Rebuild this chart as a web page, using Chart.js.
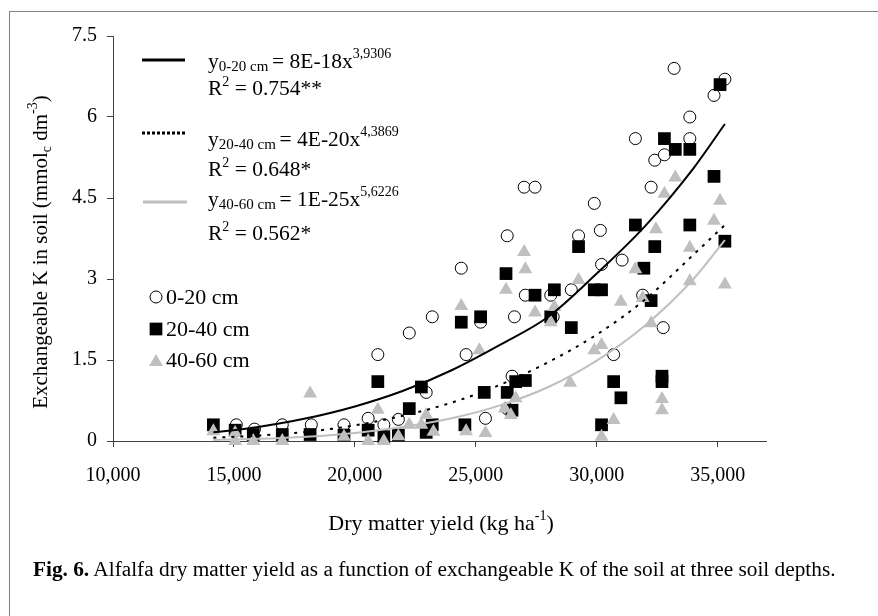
<!DOCTYPE html>
<html>
<head>
<meta charset="utf-8">
<script src="https://cdn.jsdelivr.net/npm/chart.js@4.4.1/dist/chart.umd.min.js"></script>
<style>
  html, body { margin: 0; padding: 0; background: #fff; overflow: hidden; }
  #wrap { position: relative; width: 878px; height: 616px; }
  #frame { position: absolute; left: 9px; top: 11px; width: 900px; height: 620px;
           border-left: 1.5px solid #808080; border-top: 1.5px solid #808080; }
  #chart-box { position: absolute; left: 0; top: 0; width: 878px; height: 616px; }
  #caption { position: absolute; left: 33px; top: 559px; white-space: nowrap;
             font: 21.3px 'Liberation Serif', 'Times New Roman', serif; line-height: 21px; color: #000; }
</style>
</head>
<body>
<div id="wrap">
  <div id="frame"></div>
  <div id="chart-box"><canvas id="k-chart"></canvas></div>
  <div id="caption"><b>Fig. 6.</b> Alfalfa dry matter yield as a function of exchangeable K of the soil at three soil depths.</div>
</div>
<script>
// ── data ───────────────────────────────────────────────
// 0-20 cm (open circles)
const topX = [15100, 15850, 17000, 18200, 19550, 20550, 20950, 21200, 21800, 22250, 22950, 23200, 24400, 24600, 25200,
              25400, 26300, 26300, 26500, 26600, 27000, 27050, 27450, 28100, 28200, 28950, 29250, 29900, 30150, 30200,
              30700, 31050, 31600, 31900, 32250, 32400, 32750, 32800, 33200, 33850, 33850, 34850, 35300];
const topY = [0.30, 0.22, 0.30, 0.30, 0.30, 0.42, 1.60, 0.30, 0.40, 2.00, 0.90, 2.30, 3.20, 1.60, 2.20,
              0.42, 3.80, 0.60, 1.20, 2.30, 4.70, 2.70, 4.70, 2.70, 2.30, 2.80, 3.80, 4.40, 3.90, 3.27,
              1.60, 3.35, 5.60, 2.70, 4.70, 5.20, 2.10, 5.30, 6.90, 6.00, 5.60, 6.40, 6.70];

// 20-40 cm (black squares)
const midX = [14150, 15050, 15800, 17000, 18150, 19550, 20550, 20950, 21200, 21800, 22250, 22750, 22950, 23200, 24400,
              24550, 25200, 25350, 26250, 26300, 26500, 26650, 27050, 27450, 28100, 28250, 28950, 29250, 29900, 30200,
              30200, 30700, 31000, 31600, 31950, 32250, 32400, 32700, 32700, 32800, 33250, 33850, 33850, 34850, 35100, 35300];
const midY = [0.30, 0.20, 0.12, 0.12, 0.12, 0.11, 0.20, 1.10, 0.08, 0.11, 0.60, 1.00, 0.16, 0.30, 2.20,
              0.30, 2.30, 0.90, 3.10, 0.90, 0.57, 1.10, 1.12, 2.70, 2.30, 2.80, 2.10, 3.60, 2.80, 2.80,
              0.30, 1.10, 0.80, 4.00, 3.20, 2.60, 3.60, 1.20, 1.10, 5.60, 5.40, 5.40, 4.00, 4.90, 6.60, 3.70];

// 40-60 cm (grey triangles)
const lowX = [14150, 15050, 15050, 15800, 17000, 18150, 19550, 20550, 20950, 21200, 21800, 22250, 22750, 22950, 23250,
              24400, 24600, 25150, 25400, 26250, 26200, 26450, 26650, 27000, 27050, 27450, 28100, 28250, 28900, 29250,
              29900, 30200, 30200, 30700, 31000, 31600, 31900, 32250, 32450, 32700, 32700, 32800, 33250, 33850, 33850,
              34850, 35100, 35300];
const lowY = [0.18, 0.15, 0.00, 0.00, 0.00, 0.88, 0.08, 0.00, 0.58, 0.00, 0.09, 0.30, 0.30, 0.48, 0.17,
              2.50, 0.18, 1.68, 0.15, 2.80, 0.60, 0.48, 0.79, 3.50, 3.18, 2.38, 2.20, 2.48, 1.08, 2.98,
              1.68, 1.78, 0.08, 0.39, 2.58, 3.18, 2.65, 2.18, 3.92, 0.78, 0.57, 4.58, 4.88, 3.58, 2.96,
              4.08, 4.45, 2.90];

// fitted power curves
const fitX     = [14150, 16000, 18000, 20000, 22000, 24000, 26000, 28000, 30000, 32000, 34000, 35300];
const fitTop   = [0.16, 0.26, 0.42, 0.64, 0.93, 1.31, 1.78, 2.30, 3.10, 3.98, 5.05, 5.87];
const fitMid   = [0.06, 0.10, 0.17, 0.29, 0.47, 0.71, 1.04, 1.46, 1.97, 2.62, 3.45, 4.00];
const fitLow   = [0.02, 0.04, 0.08, 0.15, 0.26, 0.42, 0.66, 1.00, 1.49, 2.14, 3.00, 3.72];

const xTicks = [10000, 15000, 20000, 25000, 30000, 35000];
const yTicks = [0, 1.5, 3, 4.5, 6, 7.5];

const GREY = '#bfbfbf';
const SERIF = "'Liberation Serif', 'Times New Roman', serif";

const pts = (xs, ys) => xs.map((x, i) => ({ x, y: ys[i] }));

// draw a run of text pieces (for sub/superscripts) starting at x, on baseline y
function drawRuns(ctx, runs, x, y) {
  let cx = x;
  runs.forEach(r => {
    ctx.font = `${r.s}px ${SERIF}`;
    ctx.fillText(r.t, cx, y + (r.dy || 0));
    cx += ctx.measureText(r.t).width;
  });
  return cx - x;
}
function runsWidth(ctx, runs) {
  return runs.reduce((w, r) => { ctx.font = `${r.s}px ${SERIF}`; return w + ctx.measureText(r.t).width; }, 0);
}

const textPlugin = {
  id: 'figText',
  afterDraw(chart) {
    const ctx = chart.ctx;
    ctx.save();
    ctx.fillStyle = '#000';
    ctx.textBaseline = 'alphabetic';
    ctx.textAlign = 'left';

    // equation legend
    ctx.lineCap = 'butt';
    ctx.strokeStyle = '#000'; ctx.lineWidth = 3;
    ctx.beginPath(); ctx.moveTo(142, 60); ctx.lineTo(185, 60); ctx.stroke();
    ctx.setLineDash([3, 2]);
    ctx.beginPath(); ctx.moveTo(142, 133); ctx.lineTo(185, 133); ctx.stroke();
    ctx.setLineDash([]);
    ctx.strokeStyle = GREY;
    ctx.beginPath(); ctx.moveTo(143, 202); ctx.lineTo(187, 202); ctx.stroke();

    const eqX = 208;
    const M = 21.5, SUB = 15, SUP = 14;
    drawRuns(ctx, [{ t: 'y', s: M }, { t: '0-20 cm ', s: SUB, dy: 3 }, { t: '= 8E-18x', s: M }, { t: '3,9306', s: SUP, dy: -10 }], eqX, 68);
    drawRuns(ctx, [{ t: 'R', s: M }, { t: '2', s: SUP, dy: -9 }, { t: ' = 0.754**', s: M }], eqX, 95);
    drawRuns(ctx, [{ t: 'y', s: M }, { t: '20-40 cm ', s: SUB, dy: 3 }, { t: '= 4E-20x', s: M }, { t: '4,3869', s: SUP, dy: -10 }], eqX, 146);
    drawRuns(ctx, [{ t: 'R', s: M }, { t: '2', s: SUP, dy: -9 }, { t: ' = 0.648*', s: M }], eqX, 176);
    drawRuns(ctx, [{ t: 'y', s: M }, { t: '40-60 cm ', s: SUB, dy: 3 }, { t: '= 1E-25x', s: M }, { t: '5,6226', s: SUP, dy: -10 }], eqX, 206);
    drawRuns(ctx, [{ t: 'R', s: M }, { t: '2', s: SUP, dy: -9 }, { t: ' = 0.562*', s: M }], eqX, 240);

    // marker legend
    const h = Chart.helpers;
    ctx.lineWidth = 1; ctx.strokeStyle = '#000'; ctx.fillStyle = '#fff';
    h.drawPoint(ctx, { pointStyle: 'circle', radius: 6, borderWidth: 1 }, 156, 297);
    ctx.fillStyle = '#000';
    h.drawPoint(ctx, { pointStyle: 'rect', radius: 9, borderWidth: 0 }, 156, 329);
    ctx.fillStyle = GREY; ctx.strokeStyle = GREY;
    h.drawPoint(ctx, { pointStyle: 'triangle', radius: 8, borderWidth: 0 }, 156, 362);
    ctx.fillStyle = '#000';
    ctx.font = `22px ${SERIF}`;
    ctx.fillText('0-20 cm', 166, 304);
    ctx.fillText('20-40 cm', 166, 336);
    ctx.fillText('40-60 cm', 166, 367);

    // x axis title
    const xt = [{ t: 'Dry matter yield (kg ha', s: 22 }, { t: '-1', s: 14, dy: -10 }, { t: ')', s: 22 }];
    drawRuns(ctx, xt, 441 - runsWidth(ctx, xt) / 2, 530);

    // y axis title (rotated)
    const yt = [{ t: 'Exchangeable K in soil (mmol', s: 21 }, { t: 'c', s: 14, dy: 4 }, { t: ' dm', s: 21 },
                { t: '-3', s: 14, dy: -10 }, { t: ')', s: 21 }];
    ctx.translate(47, 252);
    ctx.rotate(-Math.PI / 2);
    drawRuns(ctx, yt, -runsWidth(ctx, yt) / 2, 0);
    ctx.restore();
  }
};

Chart.defaults.font.family = SERIF;
Chart.defaults.color = '#000';

const ctx = document.getElementById('k-chart').getContext('2d');
new Chart(ctx, {
  type: 'scatter',
  data: {
    datasets: [
      { label: '0-20 cm fit', data: pts(fitX, fitTop), showLine: true, pointRadius: 0, borderColor: '#000',
        borderWidth: 2, cubicInterpolationMode: 'monotone', order: 0 },
      { label: '20-40 cm fit', data: pts(fitX, fitMid), showLine: true, pointRadius: 0, borderColor: '#000',
        borderWidth: 2, borderDash: [3, 6], cubicInterpolationMode: 'monotone', order: 0 },
      { label: '40-60 cm fit', data: pts(fitX, fitLow), showLine: true, pointRadius: 0, borderColor: GREY,
        borderWidth: 2, cubicInterpolationMode: 'monotone', order: 0 },
      { label: '40-60 cm', data: pts(lowX, lowY), pointStyle: 'triangle', pointRadius: 8,
        backgroundColor: GREY, borderColor: GREY, borderWidth: 0, clip: false, order: 1 },
      { label: '20-40 cm', data: pts(midX, midY), pointStyle: 'rect', pointRadius: 9,
        backgroundColor: '#000', borderColor: '#000', borderWidth: 0, clip: false, order: 2 },
      { label: '0-20 cm', data: pts(topX, topY), pointStyle: 'circle', pointRadius: 6,
        backgroundColor: '#fff', borderColor: '#000', borderWidth: 1, clip: false, order: 3 },
    ],
  },
  options: {
    responsive: true,
    maintainAspectRatio: false,
    animation: false,
    devicePixelRatio: 1,
    layout: { padding: { left: 0, top: 36, right: 112, bottom: 0 } },
    plugins: { legend: { display: false }, tooltip: { enabled: false } },
    scales: {
      x: {
        type: 'linear', min: 10000, max: 37000,
        afterBuildTicks: s => { s.ticks = xTicks.map(v => ({ value: v })); },
        afterFit: s => { s.height = 175; },
        border: { display: true, color: '#404040', width: 1 },
        grid: { drawOnChartArea: false, drawTicks: true, tickLength: 6, tickColor: '#404040' },
        ticks: { font: { size: 20 }, padding: 17, maxRotation: 0, callback: v => v.toLocaleString('en-US') },
      },
      y: {
        type: 'linear', min: 0, max: 7.5,
        afterBuildTicks: s => { s.ticks = yTicks.map(v => ({ value: v })); },
        afterFit: s => { s.width = 113; },
        border: { display: true, color: '#404040', width: 1 },
        grid: { drawOnChartArea: false, drawTicks: true, tickLength: 6, tickColor: '#404040' },
        ticks: { font: { size: 20 }, padding: 10, callback: v => String(Number(v.toFixed(1))) },
      },
    },
  },
  plugins: [textPlugin],
});
</script>
</body>
</html>
